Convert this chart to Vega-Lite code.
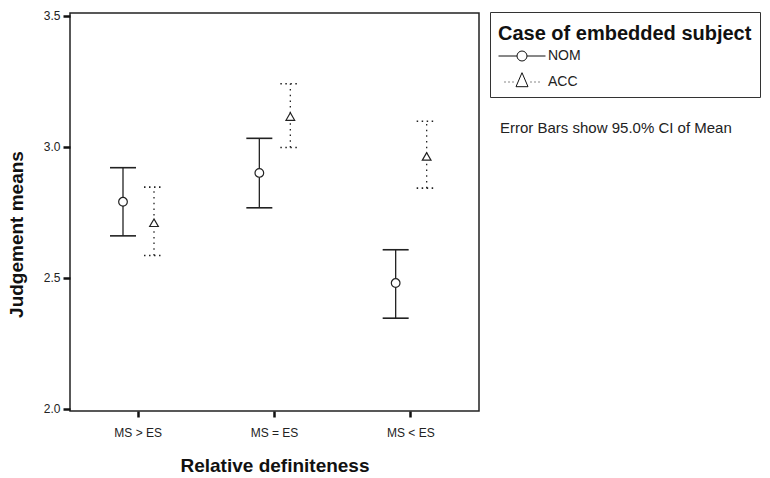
{
  "$schema": "https://vega.github.io/schema/vega-lite/v6.json",
  "width": 409,
  "height": 398,
  "autosize": {"type": "none"},
  "padding": {"left": 70, "top": 13, "right": 291, "bottom": 67},
  "background": "white",
  "config": {
    "font": "Liberation Sans",
    "view": {"stroke": "#222", "strokeWidth": 1.5},
    "axisX": {"domain": false, "grid": false, "tickSize": 6, "tickWidth": 2.5, "tickColor": "#111", "labelFontSize": 12, "labelColor": "#222", "labelPadding": 10, "labelAngle": 0, "titleFontSize": 19, "titleFontWeight": "bold", "titleColor": "#111", "titlePadding": 18},
    "axisY": {"domain": false, "grid": false, "tickSize": 7, "tickWidth": 2.5, "tickColor": "#111", "labelFontSize": 12, "labelColor": "#222", "labelPadding": 3, "titleFontSize": 19, "titleFontWeight": "bold", "titleColor": "#111", "titleX": -54, "titleY": 221, "titleAngle": 270, "titleAlign": "center", "titleBaseline": "middle"}
  },
  "title": {"text": "Error Bars show 95.0% CI of Mean", "anchor": "start", "frame": "group", "orient": "top", "offset": 0, "dx": 430, "dy": 133, "fontSize": 15, "fontWeight": "normal", "color": "#222", "baseline": "middle"},
  "data": {"values": [
    {"Cond": "MS > ES", "Case": "NOM", "mean": 2.79, "lo": 2.66, "hi": 2.92},
    {"Cond": "MS > ES", "Case": "ACC", "mean": 2.71, "lo": 2.585, "hi": 2.846},
    {"Cond": "MS = ES", "Case": "NOM", "mean": 2.90, "lo": 2.767, "hi": 3.032},
    {"Cond": "MS = ES", "Case": "ACC", "mean": 3.115, "lo": 2.997, "hi": 3.24},
    {"Cond": "MS < ES", "Case": "NOM", "mean": 2.48, "lo": 2.346, "hi": 2.607},
    {"Cond": "MS < ES", "Case": "ACC", "mean": 2.963, "lo": 2.842, "hi": 3.097}
  ]},
  "encoding": {
    "x": {"field": "Cond", "type": "nominal", "sort": ["MS > ES", "MS = ES", "MS < ES"], "title": "Relative definiteness", "scale": {"paddingInner": 0, "paddingOuter": 0}},
    "xOffset": {"field": "Case", "type": "nominal", "scale": {"type": "point", "domain": ["NOM", "ACC"], "range": [53, 84], "padding": 0}}
  },
  "resolve": {"scale": {"shape": "independent"}},
  "layer": [
    {
      "transform": [{"filter": "datum.Case === 'NOM'"}],
      "mark": {"type": "rule", "color": "#222", "strokeWidth": 1.3},
      "encoding": {
        "y": {"field": "lo", "type": "quantitative", "title": "Judgement means", "scale": {"domain": [1.992, 3.51], "nice": false, "zero": false}, "axis": {"values": [2, 2.5, 3, 3.5], "format": ".1f"}},
        "y2": {"field": "hi"}
      }
    },
    {
      "transform": [{"filter": "datum.Case === 'ACC'"}],
      "mark": {"type": "rule", "color": "#222", "strokeWidth": 1.3, "strokeDash": [1.5, 4.2]},
      "encoding": {
        "y": {"field": "lo", "type": "quantitative", "title": "Judgement means", "axis": {"values": [2, 2.5, 3, 3.5], "format": ".1f"}},
        "y2": {"field": "hi"}
      }
    },
    {
      "transform": [{"filter": "datum.Case === 'NOM'"}, {"fold": ["lo", "hi"], "as": ["bound", "val"]}],
      "mark": {"type": "point", "shape": "stroke", "color": "#222", "strokeWidth": 1.6, "opacity": 1, "size": 676},
      "encoding": {
        "y": {"field": "val", "type": "quantitative", "title": "Judgement means", "axis": {"values": [2, 2.5, 3, 3.5], "format": ".1f"}}
      }
    },
    {
      "transform": [{"filter": "datum.Case === 'ACC'"}, {"fold": ["lo", "hi"], "as": ["bound", "val"]}],
      "mark": {"type": "point", "shape": "stroke", "color": "#222", "strokeWidth": 1.6, "opacity": 1, "size": 400, "strokeDash": [1.5, 3.5]},
      "encoding": {
        "y": {"field": "val", "type": "quantitative", "title": "Judgement means", "axis": {"values": [2, 2.5, 3, 3.5], "format": ".1f"}}
      }
    },
    {
      "mark": {"type": "point", "filled": false, "fill": "white", "color": "#222", "strokeWidth": 1.2, "opacity": 1, "size": 75},
      "encoding": {
        "y": {"field": "mean", "type": "quantitative", "title": "Judgement means", "axis": {"values": [2, 2.5, 3, 3.5], "format": ".1f"}},
        "shape": {"field": "Case", "type": "nominal", "scale": {"domain": ["NOM", "ACC"], "range": ["circle", "triangle-up"]}, "legend": null}
      }
    },
    {
      "mark": {"type": "point", "filled": false, "color": "#111", "strokeWidth": 1, "opacity": 0, "size": 100},
      "encoding": {
        "y": {"field": "mean", "type": "quantitative", "title": "Judgement means", "axis": {"values": [2, 2.5, 3, 3.5], "format": ".1f"}},
        "shape": {"field": "Case", "type": "nominal", "scale": {"domain": ["NOM", "ACC"], "range": ["M-4.7,0L-1,0M1,0L4.7,0M1,0A1,1,0,1,1,-1,0A1,1,0,1,1,1,0", "M-3.5,0L-3.3,0M-2.7,0L-2.5,0M-1.9,0L-1.7,0M1.7,0L1.9,0M2.5,0L2.7,0M3.3,0L3.5,0M0,-1.86L1.2,0.94L-1.2,0.94Z"]},
          "legend": {"title": "Case of embedded subject", "orient": "none", "legendX": 420, "legendY": -1, "padding": 8, "strokeColor": "#333", "fillColor": "white", "titleFontSize": 20, "titleFontWeight": "bold", "titleColor": "#111", "titleLimit": 0, "titleBaseline": "line-top", "titleLineHeight": 28, "titlePadding": 9, "labelFontSize": 14, "labelColor": "#222", "symbolSize": 100, "symbolOffset": 17, "labelOffset": 19, "rowPadding": 7, "symbolOpacity": 1, "symbolStrokeWidth": 1, "symbolStrokeColor": "#111", "symbolFillColor": "white"}
        }
      }
    }
  ]
}
